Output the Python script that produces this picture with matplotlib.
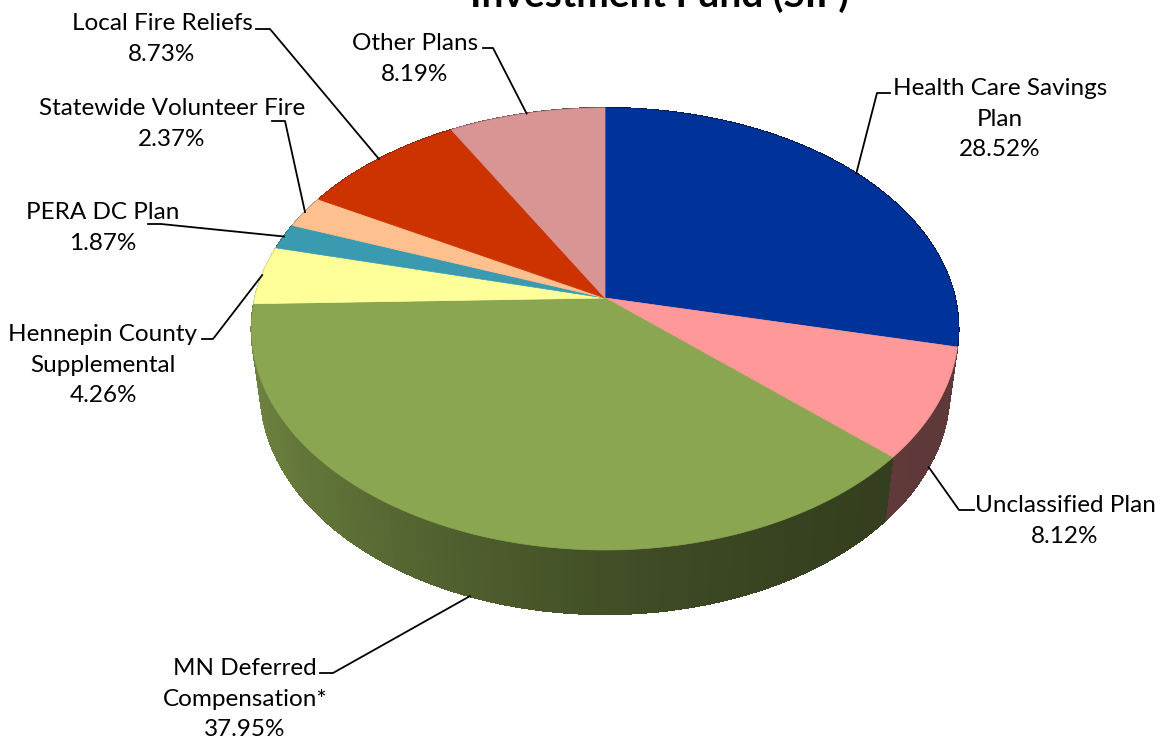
import numpy as np
import matplotlib.pyplot as plt
from matplotlib.patches import Polygon

plt.rcParams['font.family'] = ['Lato', 'DejaVu Sans']

# slices, clockwise from 12 o'clock
labels = ['Health Care Savings\nPlan', 'Unclassified Plan', 'MN Deferred\nCompensation*',
          'Hennepin County\nSupplemental', 'PERA DC Plan', 'Statewide Volunteer Fire',
          'Local Fire Reliefs', 'Other Plans']
values = [28.52, 8.12, 37.95, 4.26, 1.87, 2.37, 8.73, 8.19]
colors = ['#003399', '#FF9999', '#8BA651', '#FFFF99', '#3A9BB0', '#FFC08F',
          '#CC3300', '#D99594']

title = 'Investment Fund (SIF)'

# label text centre and leader elbow (pixels)
label_pos = [(1000, 119), (1065, 521), (245, 699), (103, 365), (103, 228),
             (172, 124), (162, 39), (415, 59)]
elbows = [[(890, 93), (877, 93)], [(974, 510), (959, 510)], [(320, 673), (333, 673)],
          [(202, 339), (213, 339)], [(148, 224), (161, 224)], [(272, 121), (285, 121)],
          [(256, 29), (270, 29)], [(483, 48), (493, 48)]]

# simple perspective projection of a tilted disc
cx, cy, s = 605, 298, 350
se, ce = 0.619, 0.785
D, h = 5.6, 0.23


def proj(x, y, z):
    v = y * se + z * ce
    w = y * ce - z * se
    k = D / (D + w)
    return cx + s * x * k, cy - s * v * k


def shade(x):
    return 0.37 + 0.43 * ((1 - x) / 2) ** 2


fig = plt.figure(figsize=(11.62, 7.42), dpi=100)
ax = fig.add_axes([0, 0, 1, 1])
ax.set_xlim(0, 1162)
ax.set_ylim(742, 0)
ax.axis('off')

fracs = np.array(values) / np.sum(values)
starts = np.concatenate([[0], np.cumsum(fracs)[:-1]]) * 2 * np.pi
ends = np.cumsum(fracs) * 2 * np.pi

# side walls
walls = []
for i, (a0, a1) in enumerate(zip(starts, ends)):
    n = max(2, int(np.degrees(a1 - a0) / 1.5))
    angs = np.linspace(a0, a1, n + 1)
    for p, q in zip(angs[:-1], angs[1:]):
        pts = [proj(np.sin(p), np.cos(p), 0), proj(np.sin(q), np.cos(q), 0),
               proj(np.sin(q), np.cos(q), -h), proj(np.sin(p), np.cos(p), -h)]
        m = (p + q) / 2
        depth = np.cos(m)
        rgb = np.array(plt.matplotlib.colors.to_rgb(colors[i])) * shade(np.sin(m))
        walls.append((depth, pts, rgb))
walls.sort(key=lambda t: -t[0])
for depth, pts, rgb in walls:
    ax.add_patch(Polygon(pts, closed=True, facecolor=rgb, edgecolor=rgb, lw=0.8,
                         antialiased=False))

# top faces
for i, (a0, a1) in enumerate(zip(starts, ends)):
    angs = np.linspace(a0, a1, max(3, int(np.degrees(a1 - a0))))
    pts = [proj(0, 0, 0)] + [proj(np.sin(a), np.cos(a), 0) for a in angs]
    ax.add_patch(Polygon(pts, closed=True, facecolor=colors[i], edgecolor=colors[i], lw=0.5))

# labels with leader lines
for i, lab in enumerate(labels):
    m = (starts[i] + ends[i]) / 2
    z = -h if np.cos(m) < 0 else 0
    ax_pt = proj(np.sin(m), np.cos(m), z)
    line = elbows[i] + [ax_pt]
    ax.plot([p[0] for p in line], [p[1] for p in line], color='black', lw=1.3)
    tx, ty = label_pos[i]
    ax.text(tx, ty, f'{lab}\n{values[i]:.2f}%', ha='center', va='center',
            multialignment='center', fontsize=17.5, linespacing=1.55, color='black')

ax.text(660, 7, title, ha='center', va='baseline', fontsize=28, fontweight='bold')

fig.savefig('out.png', dpi=100)
